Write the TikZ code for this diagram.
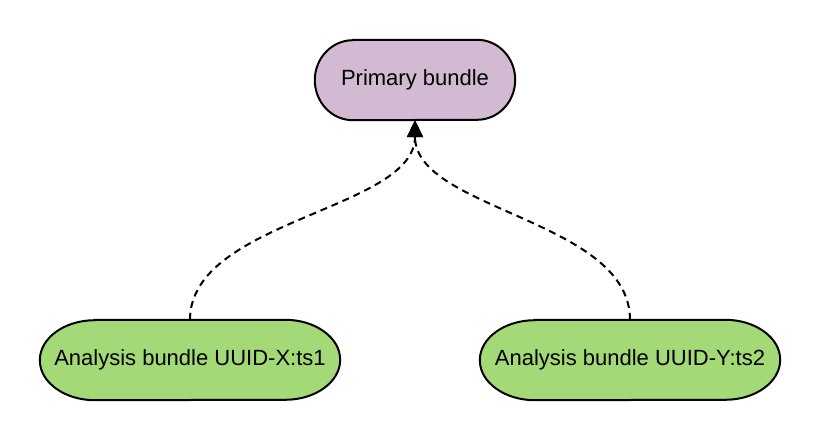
\documentclass[tikz,border=0pt]{standalone}
\usepackage{fontspec}
\setmainfont{Liberation Sans}
\usetikzlibrary{arrows.meta,calc,backgrounds}
\definecolor{primaryfill}{RGB}{210,187,210}
\definecolor{analysisfill}{RGB}{163,217,119}
\tikzset{
  labelnode/.style={inner sep=0pt, minimum height=80pt, font=\fontsize{22}{26}\selectfont, text=black},
  outline/.style={draw=black, line width=2pt},
  depedge/.style={draw=black, line width=2pt, dash pattern=on 7pt off 5pt, -{Triangle[length=17pt,width=16pt]}}
}
\newcommand\pilloutline[3]{%
  \path[outline, fill=#3]
    ($(#1.north west)+(#2,0)$) -- ($(#1.north east)+(-#2,0)$)
    arc[start angle=90, end angle=-90, x radius=#2, y radius=40]
    -- ($(#1.south west)+(#2,0)$)
    arc[start angle=270, end angle=90, x radius=#2, y radius=40] -- cycle;}
\begin{document}
\begin{tikzpicture}[x=1pt,y=1pt]
\useasboundingbox (0,0) rectangle (820,440);
\node[labelnode, minimum width=200pt] (primary) at (415,360) {Primary bundle};
\node[labelnode, minimum width=300pt] (left) at (190,80) {Analysis bundle UUID-X:ts1};
\node[labelnode, minimum width=300pt] (right) at (630,80) {Analysis bundle UUID-Y:ts2};
\begin{pgfonlayer}{background}
\pilloutline{primary}{38}{primaryfill}
\pilloutline{left}{55}{analysisfill}
\pilloutline{right}{55}{analysisfill}
\end{pgfonlayer}
\draw[depedge] (left.north) .. controls +(0,100) and +(0,-90) .. (primary.south);
\draw[depedge] (right.north) .. controls +(0,100) and +(0,-90) .. (primary.south);
\end{tikzpicture}
\end{document}
